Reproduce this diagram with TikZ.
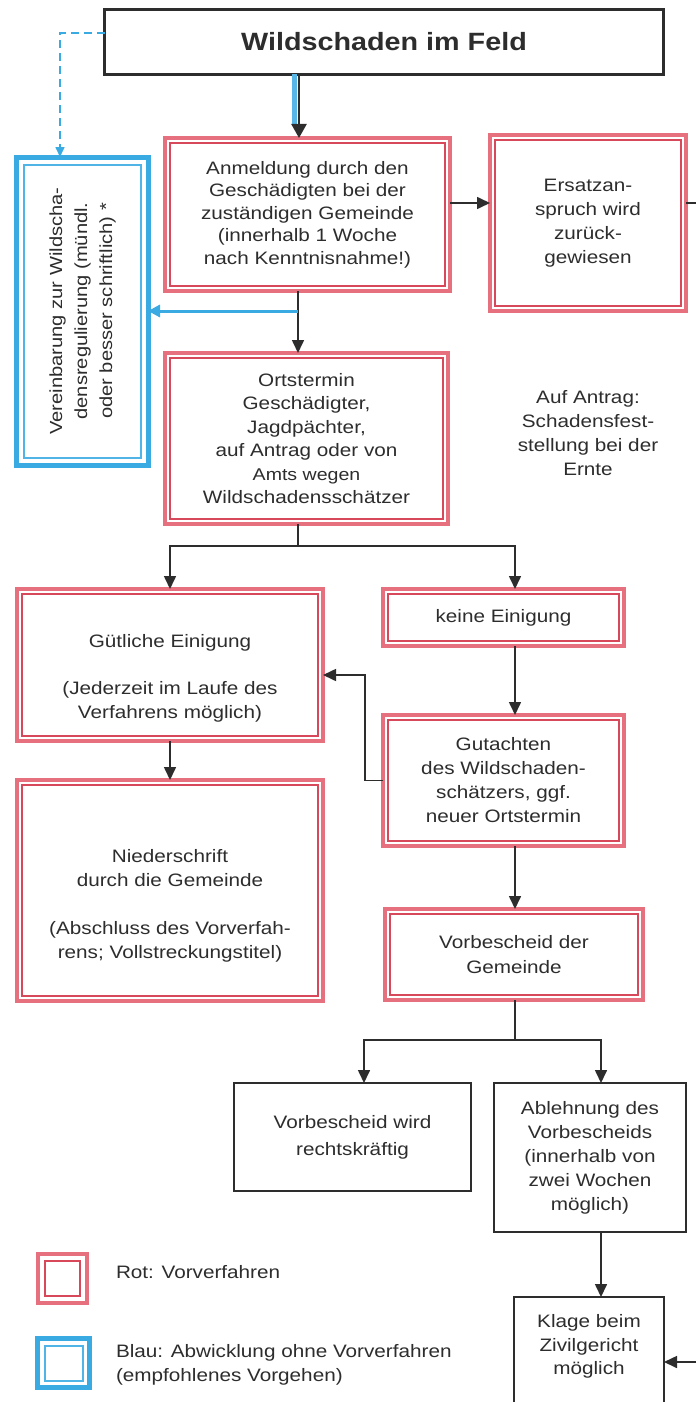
\documentclass[tikz,border=0pt]{standalone}
\usepackage{fontspec}
\setmainfont{Liberation Sans}[FakeStretch=1.15]
\usepackage{graphicx}
\usetikzlibrary{arrows.meta,calc}
\definecolor{redout}{RGB}{231,112,126}
\definecolor{redin}{RGB}{214,72,90}
\definecolor{blueout}{RGB}{58,170,226}
\definecolor{bluein}{RGB}{80,180,230}
\definecolor{ink}{RGB}{45,45,45}
\begin{document}
\begin{tikzpicture}[x=1pt,y=-1pt,
  every node/.style={text=ink, font=\fontsize{18}{22.5}\selectfont, align=center, inner sep=0pt, outer sep=0pt},
  sz/.style 2 args={minimum width=#1, minimum height=#2},
  redbox/.style={draw=redout, line width=4pt},
  redinner/.style={draw=redin, line width=1.5pt},
  bluebox/.style={draw=blueout, line width=5pt},
  blueinner/.style={draw=bluein, line width=2pt},
  blackbox/.style={draw=ink, line width=1.5pt},
  titlebox/.style={draw=ink, line width=2.2pt},
  conn/.style={draw=ink, line width=1.6pt},
  arr/.style={conn, -{Triangle[length=13pt,width=12pt]}},
  bluearr/.style={draw=blueout, line width=3pt, -{Triangle[length=12pt,width=12pt]}},
  bluedash/.style={draw=blueout, line width=1.6pt, dash pattern=on 8pt off 5pt, -{Triangle[length=10pt,width=9pt]}},
]
\useasboundingbox (0,0) rectangle (696,1402);
\fill[white] (0,0) rectangle (696,1402);

% column coordinates
\coordinate (cA) at (298,0);
\coordinate (cB) at (515,0);
\coordinate (cC) at (364,0);
\coordinate (cD) at (601,0);

% boxes
\node[titlebox, sz={559}{65}, font=\fontsize{25}{30}\selectfont\bfseries] (title) at (384,42) {Wildschaden im Feld};

\node[redbox, sz={285}{153}] (anm) at (307.5,214.5)
  {Anmeldung durch den\\Geschädigten bei der\\zuständigen Gemeinde\\(innerhalb 1 Woche\\nach Kenntnisnahme!)};

\node[redbox, sz={196}{176}, font=\fontsize{18}{24}\selectfont] (ers) at (588,223)
  {Ersatzan-\\spruch wird\\zurück-\\gewiesen};

\node[bluebox, sz={132}{308}, font=\fontsize{17.5}{25}\selectfont] (blue) at (82,311)
  {\rotatebox{90}{\begin{tabular}{@{}c@{}}Vereinbarung zur Wildscha-\\densregulierung (mündl.\\oder besser schriftlich) *\end{tabular}}};

\node[redbox, sz={283}{171}, font=\fontsize{18}{23.4}\selectfont] (ort) at (306.5,438.5)
  {Ortstermin\\Geschädigter,\\Jagdpächter,\\auf Antrag oder von\\{\fontsize{17}{23.4}\selectfont Amts wegen}\\Wildschadensschätzer};

\node[font=\fontsize{18}{24}\selectfont] (auf) at (588,433)
  {Auf Antrag:\\Schadensfest-\\stellung bei der\\Ernte};

\node[redbox, sz={306}{152}, font=\fontsize{18}{23.5}\selectfont] (gue) at (170,665)
  {\mbox{}\\[16.5pt]Gütliche Einigung\\[23.5pt](Jederzeit im Laufe des\\Verfahrens möglich)};

\node[redbox, sz={241}{57}] (keine) at (503.5,617.5) {keine Einigung};

\node[redbox, sz={241}{131}, font=\fontsize{18}{24}\selectfont] (gut) at (503.5,780.5)
  {Gutachten\\des Wildschaden-\\schätzers, ggf.\\neuer Ortstermin};

\node[redbox, sz={306}{221}, font=\fontsize{18}{24}\selectfont] (nie) at (170,890.5)
  {\mbox{}\\[19pt]Niederschrift\\durch die Gemeinde\\[24pt](Abschluss des Vorverfah-\\rens; Vollstreckungstitel)};

\node[redbox, sz={258}{91}, font=\fontsize{18}{25}\selectfont] (vor) at (514,954.5)
  {Vorbescheid der\\Gemeinde};

\node[blackbox, sz={237}{108}, font=\fontsize{18}{27}\selectfont] (vbw) at (352.5,1137)
  {Vorbescheid wird\\rechtskräftig};

\node[blackbox, sz={192}{149}, font=\fontsize{18}{24}\selectfont] (abl) at (590,1157.5)
  {Ablehnung des\\Vorbescheids\\(innerhalb von\\zwei Wochen\\möglich)};

\node[blackbox, sz={150}{126}, font=\fontsize{18}{23.5}\selectfont] (kla) at (589,1360)
  {Klage beim\\Zivilgericht\\möglich\\[7.5pt]\mbox{}};

% legend
\node[redbox, sz={49}{49}] (rleg) at (62.5,1278.5) {};
\node[bluebox, sz={52}{49}] (bleg) at (63.5,1363) {};
\node[anchor=west, align=left] (rtxt) at (116,1272) {Rot: Vorverfahren};
\node[anchor=west, align=left, font=\fontsize{18}{24}\selectfont] (btxt) at (116,1365)
  {Blau: Abwicklung ohne Vorverfahren\\(empfohlenes Vorgehen)};

% inner lines of double frames
\foreach \n in {anm,ers,ort,gue,keine,gut,nie,vor}
  \draw[redinner] ([shift={(5,5)}]\n.north west) rectangle ([shift={(-5,-5)}]\n.south east);
\draw[redinner] ([shift={(7,7)}]rleg.north west) rectangle ([shift={(-7,-7)}]rleg.south east);
\draw[blueinner] ([shift={(7.5,7.5)}]blue.north west) rectangle ([shift={(-7.5,-7.5)}]blue.south east);
\draw[blueinner] ([shift={(7,7)}]bleg.north west) rectangle ([shift={(-7,-7)}]bleg.south east);

% top arrow (blue band + dark arrow)
\coordinate (t1) at (title.south -| cA);
\coordinate (t2) at (anm.north -| cA);
\draw[draw=blueout!85, line width=5pt] ([xshift=-4pt]t1) -- ([xshift=-4pt,yshift=12pt]t2);
\draw[conn, line width=2.4pt, -{Triangle[length=14pt,width=15pt]}] ([xshift=1pt]t1) -- ([xshift=1pt]t2);

% blue dashed from title to blue box
\coordinate (tw) at ([yshift=9pt]title.west);
\draw[bluedash] (tw) -| ([xshift=-22pt]blue.north);

% Anmeldung -> Ersatzanspruch -> off page
\coordinate (ae) at ([yshift=11.5pt]anm.east);
\coordinate (re) at (696,203);
\draw[arr] (ae) -- (ae -| ers.west);
\draw[conn] (ers.east |- re) -- (re);

% Anmeldung -> Ortstermin, blue branch
\draw[arr] (anm.south -| cA) -- (ort.north -| cA);
\draw[bluearr] (blue.east -| cA) -- (blue.east);

% Ortstermin branch
\coordinate (j1) at (298,546);
\draw[conn] (ort.south -| cA) -- (j1);
\draw[arr] (j1) -| (gue.north);
\draw[arr] (j1) -| (keine.north -| cB);

% right column
\draw[arr] (keine.south -| cB) -- (gut.north -| cB);
\draw[arr] (gut.south -| cB) -- (vor.north -| cB);
\draw[arr] (gut.west) -- ++(-18,0) |- ([yshift=-10pt]gue.east);

% left column
\draw[arr] (gue.south) -- (nie.north);

% Vorbescheid branch
\coordinate (j2) at (515,1040);
\draw[conn] (vor.south -| cB) -- (j2);
\draw[arr] (j2) -| (vbw.north -| cC);
\draw[arr] (j2) -| (abl.north -| cD);
\draw[arr] (abl.south -| cD) -- (kla.north -| cD);

% arrow from the right into Klage
\coordinate (kr) at (696,1362);
\draw[arr] (kr) -- (kr -| kla.east);
\end{tikzpicture}
\end{document}
